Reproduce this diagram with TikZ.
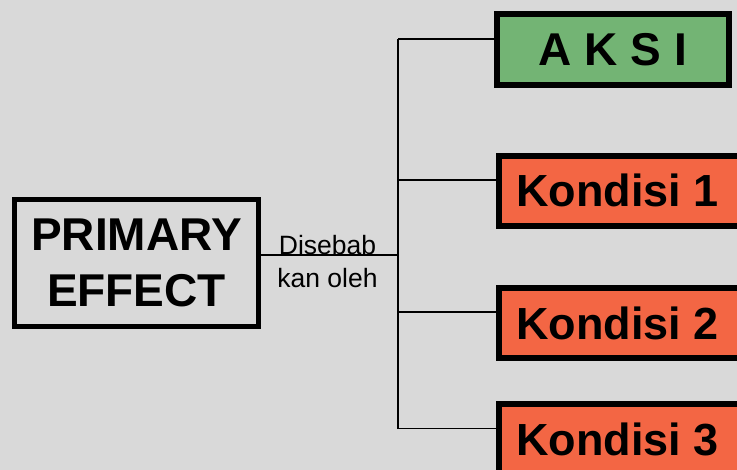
\documentclass[tikz,border=0pt]{standalone}
\usepackage{fontspec}
\setmainfont{Liberation Sans}
\definecolor{bg}{HTML}{D9D9D9}
\definecolor{aksigreen}{HTML}{73B474}
\definecolor{kondorange}{HTML}{F36644}
\begin{document}
\begin{tikzpicture}[x=1pt,y=-1pt,
  bigbox/.style={draw=black,inner sep=0pt,outer sep=0pt,font=\bfseries\fontsize{45}{56}\selectfont,align=center},
  condbox/.style={bigbox,fill=kondorange,line width=6pt,minimum width=243pt,minimum height=70pt},
  conn/.style={draw=black,line width=1.2pt},
  lbltext/.style={inner sep=0pt,outer sep=0pt,font=\fontsize{26.5}{33}\selectfont,align=center}]
\useasboundingbox (0,0) rectangle (737,470);
\clip (0,0) rectangle (737,470);
\fill[bg] (0,0) rectangle (737,470);

\node[bigbox,line width=5pt,minimum width=244pt,minimum height=127.5pt,font=\bfseries\fontsize{46}{56}\selectfont] (P) at (136.5,263) {PRIMARY\\EFFECT};
\node[bigbox,fill=aksigreen,line width=6pt,minimum width=232pt,minimum height=71pt,font=\bfseries\fontsize{46}{56}\selectfont] (A) at (613,49.5) {A K S I};
\node[condbox] (K1) at (620.5,190.75) {Kondisi 1\kern6pt};
\node[condbox] (K2) at (620.5,323) {Kondisi 2\kern6pt};
\node[condbox] (K3) at (620.5,439) {Kondisi 3\kern6pt};

\node[lbltext] (L) at (327.5,261.5) {Disebab\\kan oleh};

\coordinate (j) at (398,255);
\coordinate (b1) at (398,39);
\coordinate (b2) at (398,180);
\coordinate (b3) at (398,312);
\coordinate (b4) at (398,428.7);

\draw[conn] (P.east |- j) -- (j);
\draw[conn] (b1) -- (b4);
\draw[conn] (b1) -- (A.west |- b1);
\draw[conn] (b2) -- (K1.west |- b2);
\draw[conn] (b3) -- (K2.west |- b3);
\draw[conn] (b4) -- (K3.west |- b4);
\end{tikzpicture}
\end{document}
